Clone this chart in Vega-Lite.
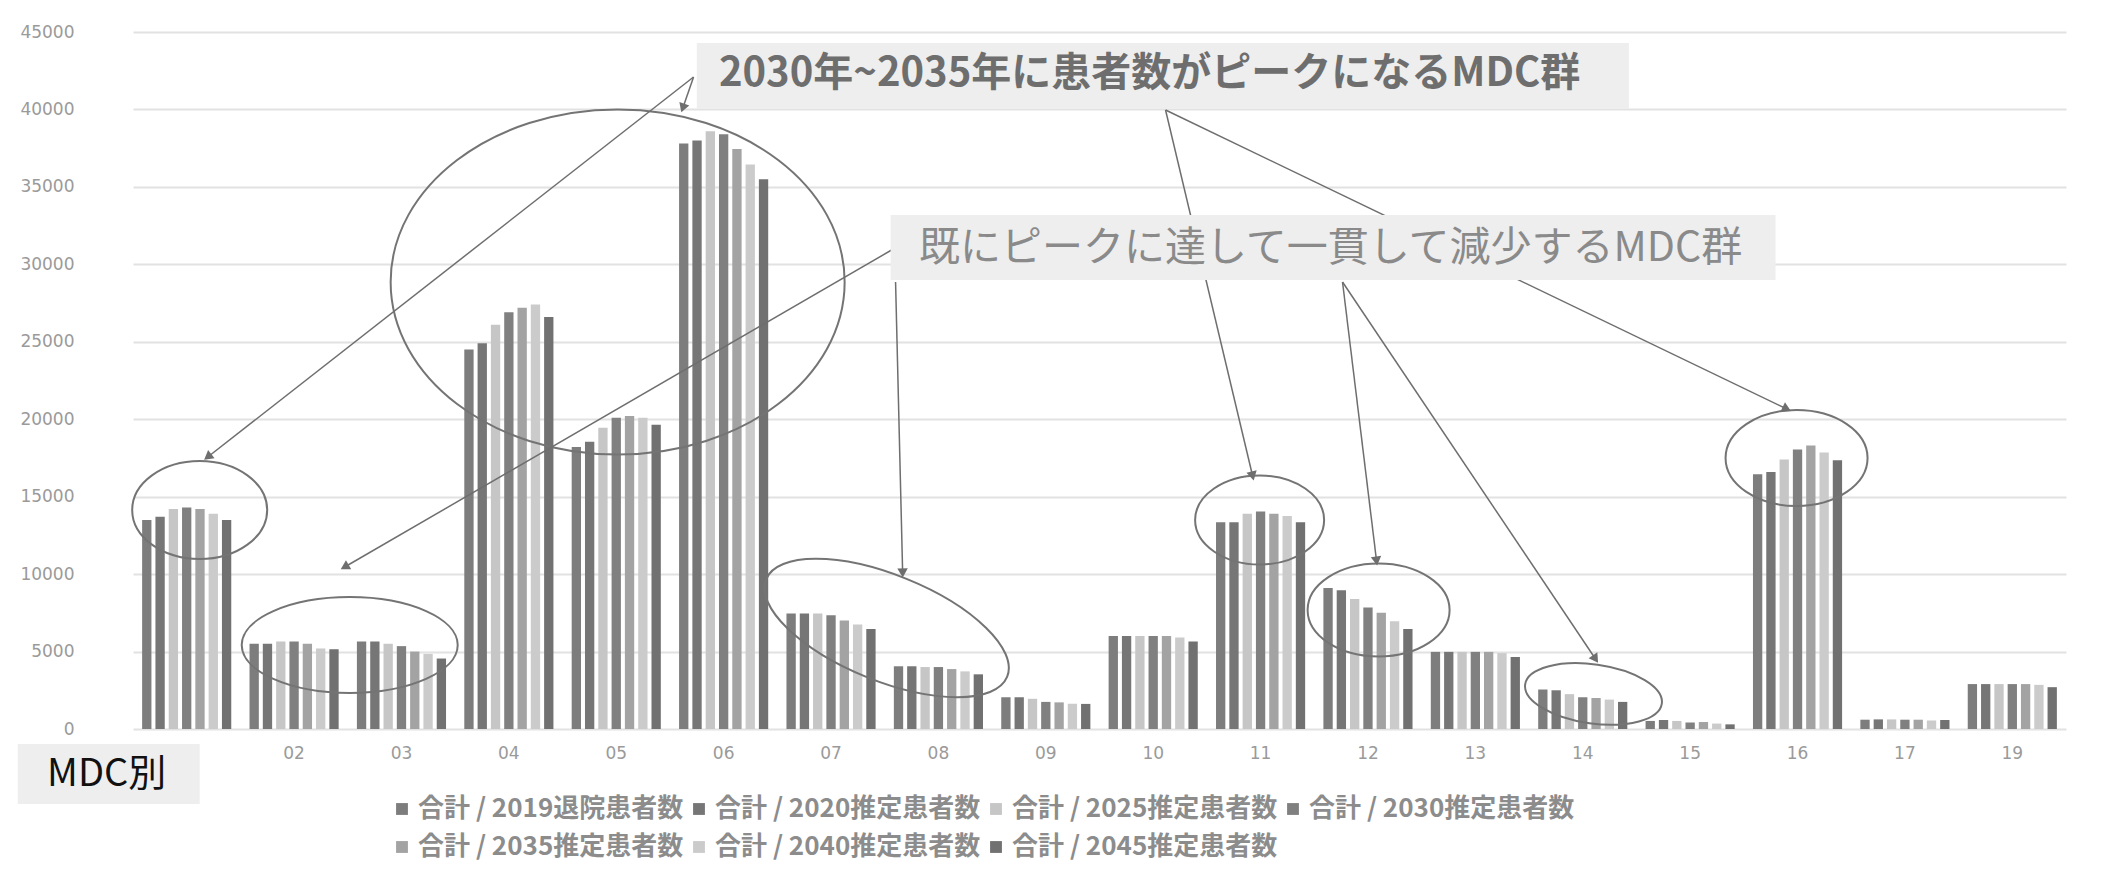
{
  "$schema": "https://vega.github.io/schema/vega-lite/v6.json",
  "width": 1933,
  "height": 697,
  "autosize": {"type": "none"},
  "padding": {"left": 133, "top": 32, "right": 36, "bottom": 155},
  "background": "white",
  "config": {"view": {"stroke": null}, "font": "Noto Sans CJK JP"},
  "datasets": {
    "mdc": [
      {"mdc": "01", "合計 / 2019退院患者数": 13500, "合計 / 2020推定患者数": 13700, "合計 / 2025推定患者数": 14200, "合計 / 2030推定患者数": 14300, "合計 / 2035推定患者数": 14200, "合計 / 2040推定患者数": 13900, "合計 / 2045推定患者数": 13500},
      {"mdc": "02", "合計 / 2019退院患者数": 5500, "合計 / 2020推定患者数": 5500, "合計 / 2025推定患者数": 5650, "合計 / 2030推定患者数": 5650, "合計 / 2035推定患者数": 5500, "合計 / 2040推定患者数": 5200, "合計 / 2045推定患者数": 5150},
      {"mdc": "03", "合計 / 2019退院患者数": 5650, "合計 / 2020推定患者数": 5650, "合計 / 2025推定患者数": 5500, "合計 / 2030推定患者数": 5350, "合計 / 2035推定患者数": 5000, "合計 / 2040推定患者数": 4850, "合計 / 2045推定患者数": 4550},
      {"mdc": "04", "合計 / 2019退院患者数": 24500, "合計 / 2020推定患者数": 24900, "合計 / 2025推定患者数": 26100, "合計 / 2030推定患者数": 26900, "合計 / 2035推定患者数": 27200, "合計 / 2040推定患者数": 27400, "合計 / 2045推定患者数": 26600},
      {"mdc": "05", "合計 / 2019退院患者数": 18200, "合計 / 2020推定患者数": 18550, "合計 / 2025推定患者数": 19450, "合計 / 2030推定患者数": 20100, "合計 / 2035推定患者数": 20200, "合計 / 2040推定患者数": 20100, "合計 / 2045推定患者数": 19650},
      {"mdc": "06", "合計 / 2019退院患者数": 37800, "合計 / 2020推定患者数": 38000, "合計 / 2025推定患者数": 38600, "合計 / 2030推定患者数": 38400, "合計 / 2035推定患者数": 37450, "合計 / 2040推定患者数": 36450, "合計 / 2045推定患者数": 35500},
      {"mdc": "07", "合計 / 2019退院患者数": 7450, "合計 / 2020推定患者数": 7450, "合計 / 2025推定患者数": 7450, "合計 / 2030推定患者数": 7350, "合計 / 2035推定患者数": 7000, "合計 / 2040推定患者数": 6750, "合計 / 2045推定患者数": 6450},
      {"mdc": "08", "合計 / 2019退院患者数": 4050, "合計 / 2020推定患者数": 4050, "合計 / 2025推定患者数": 4000, "合計 / 2030推定患者数": 4000, "合計 / 2035推定患者数": 3870, "合計 / 2040推定患者数": 3720, "合計 / 2045推定患者数": 3530},
      {"mdc": "09", "合計 / 2019退院患者数": 2050, "合計 / 2020推定患者数": 2050, "合計 / 2025推定患者数": 1950, "合計 / 2030推定患者数": 1750, "合計 / 2035推定患者数": 1720, "合計 / 2040推定患者数": 1630, "合計 / 2045推定患者数": 1620},
      {"mdc": "10", "合計 / 2019退院患者数": 6000, "合計 / 2020推定患者数": 6000, "合計 / 2025推定患者数": 6000, "合計 / 2030推定患者数": 6000, "合計 / 2035推定患者数": 6000, "合計 / 2040推定患者数": 5900, "合計 / 2045推定患者数": 5650},
      {"mdc": "11", "合計 / 2019退院患者数": 13350, "合計 / 2020推定患者数": 13350, "合計 / 2025推定患者数": 13900, "合計 / 2030推定患者数": 14050, "合計 / 2035推定患者数": 13900, "合計 / 2040推定患者数": 13750, "合計 / 2045推定患者数": 13350},
      {"mdc": "12", "合計 / 2019退院患者数": 9100, "合計 / 2020推定患者数": 8950, "合計 / 2025推定患者数": 8400, "合計 / 2030推定患者数": 7850, "合計 / 2035推定患者数": 7500, "合計 / 2040推定患者数": 6950, "合計 / 2045推定患者数": 6450},
      {"mdc": "13", "合計 / 2019退院患者数": 4980, "合計 / 2020推定患者数": 4980, "合計 / 2025推定患者数": 4980, "合計 / 2030推定患者数": 4980, "合計 / 2035推定患者数": 4980, "合計 / 2040推定患者数": 4900, "合計 / 2045推定患者数": 4650},
      {"mdc": "14", "合計 / 2019退院患者数": 2550, "合計 / 2020推定患者数": 2500, "合計 / 2025推定患者数": 2250, "合計 / 2030推定患者数": 2050, "合計 / 2035推定患者数": 2000, "合計 / 2040推定患者数": 1900, "合計 / 2045推定患者数": 1750},
      {"mdc": "15", "合計 / 2019退院患者数": 520, "合計 / 2020推定患者数": 580, "合計 / 2025推定患者数": 520, "合計 / 2030推定患者数": 420, "合計 / 2035推定患者数": 450, "合計 / 2040推定患者数": 350, "合計 / 2045推定患者数": 300},
      {"mdc": "16", "合計 / 2019退院患者数": 16450, "合計 / 2020推定患者数": 16600, "合計 / 2025推定患者数": 17400, "合計 / 2030推定患者数": 18050, "合計 / 2035推定患者数": 18300, "合計 / 2040推定患者数": 17850, "合計 / 2045推定患者数": 17350},
      {"mdc": "17", "合計 / 2019退院患者数": 600, "合計 / 2020推定患者数": 620, "合計 / 2025推定患者数": 620, "合計 / 2030推定患者数": 600, "合計 / 2035推定患者数": 600, "合計 / 2040推定患者数": 550, "合計 / 2045推定患者数": 580},
      {"mdc": "19", "合計 / 2019退院患者数": 2900, "合計 / 2020推定患者数": 2900, "合計 / 2025推定患者数": 2900, "合計 / 2030推定患者数": 2900, "合計 / 2035推定患者数": 2900, "合計 / 2040推定患者数": 2850, "合計 / 2045推定患者数": 2700}
    ],
    "arrows": [
      {"ax": 4.72, "ay": 42093, "ax2": 0.196, "ay2": 17560},
      {"ax": 4.72, "ay": 42093, "ax2": 4.62, "ay2": 40092},
      {"ax": 9.115, "ay": 39963, "ax2": 9.926, "ay2": 16334},
      {"ax": 9.115, "ay": 39963, "ax2": 14.9, "ay2": 20659},
      {"ax": 6.564, "ay": 30924, "ax2": 1.471, "ay2": 10459},
      {"ax": 6.601, "ay": 28858, "ax2": 6.667, "ay2": 10071},
      {"ax": 10.763, "ay": 28858, "ax2": 11.08, "ay2": 10846},
      {"ax": 10.763, "ay": 28858, "ax2": 13.119, "ay2": 4519}
    ],
    "heads": [
      {"ax": 0.196, "ay": 17560, "angle": 52},
      {"ax": 4.62, "ay": 40092, "angle": 19.5},
      {"ax": 9.926, "ay": 16334, "angle": -13.4},
      {"ax": 14.9, "ay": 20659, "angle": -64.3},
      {"ax": 1.471, "ay": 10459, "angle": 59.9},
      {"ax": 6.667, "ay": 10071, "angle": -1.4},
      {"ax": 11.08, "ay": 10846, "angle": -6.9},
      {"ax": 13.119, "ay": 4519, "angle": -33.9}
    ],
    "boxes": [
      {"ax": 4.75, "ax2": 13.43, "ay": 44288, "ay2": 40027},
      {"ax": 6.555, "ax2": 14.795, "ay": 33184, "ay2": 28987},
      {"ax": -1.573, "ax2": 0.121, "ay": -968, "ay2": -4842}
    ]
  },
  "layer": [
    {
      "data": {"name": "mdc"},
      "transform": [
        {"fold": ["合計 / 2019退院患者数", "合計 / 2020推定患者数", "合計 / 2025推定患者数", "合計 / 2030推定患者数", "合計 / 2035推定患者数", "合計 / 2040推定患者数", "合計 / 2045推定患者数"], "as": ["series", "value"]}
      ],
      "mark": {"type": "bar"},
      "encoding": {
        "x": {
          "field": "mdc", "type": "nominal", "sort": null,
          "scale": {"paddingInner": 0.17, "paddingOuter": 0.085},
          "axis": {"title": null, "labelAngle": 0, "ticks": false, "domain": false, "labelFontSize": 17, "labelColor": "#9a9a9a", "labelPadding": 16, "labelFont": "DejaVu Sans"}
        },
        "xOffset": {
          "field": "series", "type": "nominal",
          "scale": {"paddingInner": 0.3, "domain": ["合計 / 2019退院患者数", "合計 / 2020推定患者数", "合計 / 2025推定患者数", "合計 / 2030推定患者数", "合計 / 2035推定患者数", "合計 / 2040推定患者数", "合計 / 2045推定患者数"]}
        },
        "y": {
          "field": "value", "type": "quantitative",
          "scale": {"domain": [0, 45000], "nice": false},
          "axis": {"title": null, "values": [0, 5000, 10000, 15000, 20000, 25000, 30000, 35000, 40000, 45000], "format": "d", "ticks": false, "domain": false, "labelFontSize": 17, "labelColor": "#9a9a9a", "labelPadding": 59, "gridColor": "#e2e2e2", "gridWidth": 2, "labelFont": "DejaVu Sans"}
        },
        "color": {
          "field": "series", "type": "nominal",
          "scale": {
            "domain": ["合計 / 2019退院患者数", "合計 / 2020推定患者数", "合計 / 2025推定患者数", "合計 / 2030推定患者数", "合計 / 2035推定患者数", "合計 / 2040推定患者数", "合計 / 2045推定患者数"],
            "range": ["#7d7d7d", "#767676", "#c6c6c6", "#808080", "#a3a3a3", "#cbcbcb", "#717171"]
          },
          "legend": {"title": null, "orient": "none", "direction": "horizontal", "legendX": 256, "legendY": 764, "columns": 4, "symbolType": "square", "symbolSize": 140, "labelFontSize": 26, "labelFontWeight": "bold", "labelColor": "#8c8c8c", "labelFont": "Noto Sans CJK JP", "rowPadding": 12, "columnPadding": 2, "labelLimit": 500, "labelOffset": 3}
        }
      }
    },
    {
      "data": {"values": [{"ax": 0.121, "ay": 14139}]},
      "mark": {"type": "point", "shape": "M-1,0A1,0.726,0,1,1,1,0A1,0.726,0,1,1,-1,0Z", "size": 18225, "filled": false, "stroke": "#747474", "strokeWidth": 2, "opacity": 1},
      "encoding": {"x": {"field": "ax", "type": "quantitative", "scale": {"domain": [-0.5, 17.5]}, "axis": null}, "y": {"field": "ay", "type": "quantitative"}}
    },
    {
      "data": {"values": [{"ax": 1.518, "ay": 5423}]},
      "mark": {"type": "point", "shape": "M-1,0A1,0.444,0,1,1,1,0A1,0.444,0,1,1,-1,0Z", "size": 46656, "filled": false, "stroke": "#747474", "strokeWidth": 2, "opacity": 1},
      "encoding": {"x": {"field": "ax", "type": "quantitative", "scale": {"domain": [-0.5, 17.5]}, "axis": null}, "y": {"field": "ay", "type": "quantitative"}}
    },
    {
      "data": {"values": [{"ax": 4.013, "ay": 28858}]},
      "mark": {"type": "point", "shape": "M-1,0A1,0.76,0,1,1,1,0A1,0.76,0,1,1,-1,0Z", "size": 206116, "filled": false, "stroke": "#747474", "strokeWidth": 2, "opacity": 1},
      "encoding": {"x": {"field": "ax", "type": "quantitative", "scale": {"domain": [-0.5, 17.5]}, "axis": null}, "y": {"field": "ay", "type": "quantitative"}}
    },
    {
      "data": {"values": [{"ax": 6.518, "ay": 6521}]},
      "mark": {"type": "point", "shape": "M-1,0A1,0.408,0,1,1,1,0A1,0.408,0,1,1,-1,0Z", "size": 67600, "angle": 22, "filled": false, "stroke": "#747474", "strokeWidth": 2, "opacity": 1},
      "encoding": {"x": {"field": "ax", "type": "quantitative", "scale": {"domain": [-0.5, 17.5]}, "axis": null}, "y": {"field": "ay", "type": "quantitative"}}
    },
    {
      "data": {"values": [{"ax": 9.991, "ay": 13493}]},
      "mark": {"type": "point", "shape": "M-1,0A1,0.69,0,1,1,1,0A1,0.69,0,1,1,-1,0Z", "size": 16641, "filled": false, "stroke": "#747474", "strokeWidth": 2, "opacity": 1},
      "encoding": {"x": {"field": "ax", "type": "quantitative", "scale": {"domain": [-0.5, 17.5]}, "axis": null}, "y": {"field": "ay", "type": "quantitative"}}
    },
    {
      "data": {"values": [{"ax": 11.099, "ay": 7683}]},
      "mark": {"type": "point", "shape": "M-1,0A1,0.655,0,1,1,1,0A1,0.655,0,1,1,-1,0Z", "size": 20164, "filled": false, "stroke": "#747474", "strokeWidth": 2, "opacity": 1},
      "encoding": {"x": {"field": "ax", "type": "quantitative", "scale": {"domain": [-0.5, 17.5]}, "axis": null}, "y": {"field": "ay", "type": "quantitative"}}
    },
    {
      "data": {"values": [{"ax": 13.1, "ay": 2260}]},
      "mark": {"type": "point", "shape": "M-1,0A1,0.428,0,1,1,1,0A1,0.428,0,1,1,-1,0Z", "size": 19044, "angle": 8, "filled": false, "stroke": "#747474", "strokeWidth": 2, "opacity": 1},
      "encoding": {"x": {"field": "ax", "type": "quantitative", "scale": {"domain": [-0.5, 17.5]}, "axis": null}, "y": {"field": "ay", "type": "quantitative"}}
    },
    {
      "data": {"values": [{"ax": 14.991, "ay": 17496}]},
      "mark": {"type": "point", "shape": "M-1,0A1,0.676,0,1,1,1,0A1,0.676,0,1,1,-1,0Z", "size": 20164, "filled": false, "stroke": "#747474", "strokeWidth": 2, "opacity": 1},
      "encoding": {"x": {"field": "ax", "type": "quantitative", "scale": {"domain": [-0.5, 17.5]}, "axis": null}, "y": {"field": "ay", "type": "quantitative"}}
    },
    {
      "data": {"name": "arrows"},
      "mark": {"type": "rule", "color": "#6e6e6e", "strokeWidth": 1.5},
      "encoding": {
        "x": {"field": "ax", "type": "quantitative", "scale": {"domain": [-0.5, 17.5]}, "axis": null},
        "x2": {"field": "ax2"},
        "y": {"field": "ay", "type": "quantitative"},
        "y2": {"field": "ay2"}
      }
    },
    {
      "data": {"name": "heads"},
      "mark": {"type": "point", "shape": "triangle-down", "size": 110, "filled": true, "color": "#6e6e6e", "opacity": 1},
      "encoding": {
        "x": {"field": "ax", "type": "quantitative", "scale": {"domain": [-0.5, 17.5]}, "axis": null},
        "y": {"field": "ay", "type": "quantitative"},
        "angle": {"field": "angle", "type": "quantitative", "scale": null}
      }
    },
    {
      "data": {"name": "boxes"},
      "mark": {"type": "rect", "color": "#eeeeee", "opacity": 1},
      "encoding": {
        "x": {"field": "ax", "type": "quantitative", "scale": {"domain": [-0.5, 17.5]}, "axis": null},
        "x2": {"field": "ax2"},
        "y": {"field": "ay", "type": "quantitative"},
        "y2": {"field": "ay2"}
      }
    },
    {
      "data": {"values": [{"ax": 8.966, "ay": 42287, "label": "2030年~2035年に患者数がピークになるMDC群"}]},
      "mark": {"type": "text", "fontSize": 40, "fontWeight": "bold", "color": "#6e6e6e", "font": "Noto Sans CJK JP", "align": "center", "baseline": "middle"},
      "encoding": {
        "x": {"field": "ax", "type": "quantitative", "scale": {"domain": [-0.5, 17.5]}, "axis": null},
        "y": {"field": "ay", "type": "quantitative"},
        "text": {"field": "label"}
      }
    },
    {
      "data": {"values": [{"ax": 10.652, "ay": 31000, "label": "既にピークに達して一貫して減少するMDC群"}]},
      "mark": {"type": "text", "fontSize": 41, "fontWeight": "normal", "color": "#8a8a8a", "font": "Noto Sans CJK JP", "align": "center", "baseline": "middle"},
      "encoding": {
        "x": {"field": "ax", "type": "quantitative", "scale": {"domain": [-0.5, 17.5]}, "axis": null},
        "y": {"field": "ay", "type": "quantitative"},
        "text": {"field": "label"}
      }
    },
    {
      "data": {"values": [{"ax": -0.745, "ay": -2970, "label": "MDC別"}]},
      "mark": {"type": "text", "fontSize": 38, "fontWeight": "normal", "color": "#111111", "font": "Noto Sans CJK JP", "align": "center", "baseline": "middle"},
      "encoding": {
        "x": {"field": "ax", "type": "quantitative", "scale": {"domain": [-0.5, 17.5]}, "axis": null},
        "y": {"field": "ay", "type": "quantitative"},
        "text": {"field": "label"}
      }
    }
  ],
  "resolve": {"scale": {"x": "independent"}, "axis": {"x": "independent"}}
}
